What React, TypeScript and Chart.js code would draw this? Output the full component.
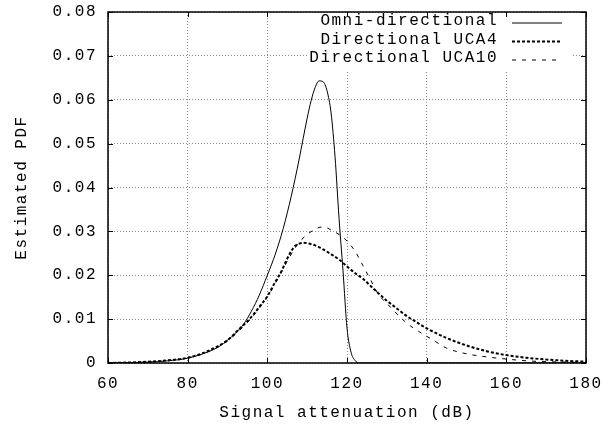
import React, { useEffect, useRef } from 'react';
import { Chart, registerables } from 'chart.js';

Chart.register(...registerables);

const xTickValues = [60, 80, 100, 120, 140, 160, 180];
const yTickValues = [0, 0.01, 0.02, 0.03, 0.04, 0.05, 0.06, 0.07, 0.08];
const seriesLabels = ['Omni-directional', 'Directional UCA4', 'Directional UCA10'];
const xTitle = 'Signal attenuation (dB)';
const yTitle = 'Estimated PDF';

const omniX = [60, 65, 70, 75, 80, 85, 88, 90, 92, 94, 96, 98, 100, 101, 102, 103, 104, 105, 106, 107, 108, 109, 110, 111, 112, 113, 114, 115, 116, 117, 118, 119, 120, 121, 122, 123, 130, 140, 160, 180];
const omniY = [0, 0.0001, 0.0002, 0.0005, 0.0011, 0.0025, 0.0038, 0.0052, 0.0068, 0.0088, 0.0118, 0.0155, 0.02, 0.0223, 0.0248, 0.0276, 0.0307, 0.0342, 0.038, 0.0421, 0.0465, 0.0512, 0.0558, 0.0598, 0.0628, 0.0643, 0.0641, 0.062, 0.057, 0.047, 0.033, 0.021, 0.008, 0.0025, 0.0006, 0, 0, 0, 0, 0];

const uca4X = [60, 65, 70, 75, 80, 85, 90, 93, 95, 96, 98, 100, 102, 103, 104, 105, 106, 107, 108, 109, 110, 112, 114, 116, 118, 120, 122, 124, 126, 128, 130, 132, 135, 138, 140, 145, 150, 155, 160, 165, 170, 175, 180];
const uca4Y = [0, 0.0001, 0.0003, 0.0006, 0.0012, 0.0027, 0.0052, 0.0078, 0.0095, 0.0105, 0.0128, 0.0152, 0.0185, 0.02, 0.0218, 0.0238, 0.0255, 0.0267, 0.0272, 0.0274, 0.0273, 0.0268, 0.0259, 0.0248, 0.0236, 0.022, 0.0205, 0.0192, 0.0175, 0.0158, 0.0142, 0.0128, 0.0107, 0.009, 0.0079, 0.0057, 0.004, 0.0027, 0.0018, 0.0012, 0.0008, 0.0005, 0.0003];

const uca10X = [60, 65, 70, 75, 80, 85, 90, 93, 95, 96, 98, 100, 102, 104, 106, 108, 110, 112, 113, 114, 115, 116, 118, 120, 122, 124, 126, 128, 130, 132, 134, 136, 138, 140, 142, 145, 150, 155, 160, 165, 170, 175, 180];
const uca10Y = [0, 0.0001, 0.0002, 0.0005, 0.0011, 0.0025, 0.005, 0.0074, 0.0092, 0.0102, 0.0125, 0.015, 0.0181, 0.0215, 0.0248, 0.0275, 0.0293, 0.0305, 0.0309, 0.031, 0.0308, 0.0303, 0.0293, 0.0278, 0.0255, 0.0222, 0.0188, 0.0155, 0.0136, 0.0117, 0.0099, 0.0084, 0.0072, 0.0061, 0.005, 0.0034, 0.0021, 0.0014, 0.0009, 0.0005, 0.0003, 0.0002, 0.0001];

const FONT_FAMILY = "'Liberation Mono', 'DejaVu Sans Mono', monospace";
const FONT_SIZE = 16;
const LETTER_SPACING = '1.5px';

const toPoints = (xs: number[], ys: number[]) => xs.map((x, i) => ({ x, y: ys[i] }));

const spacingPlugin = {
  id: 'spacing',
  beforeUpdate(chart: any) { chart.ctx.letterSpacing = LETTER_SPACING; },
  beforeLayout(chart: any) { chart.ctx.letterSpacing = LETTER_SPACING; },
  beforeDraw(chart: any) { chart.ctx.letterSpacing = LETTER_SPACING; },
};

const legendBoxPlugin = {
  id: 'legendBox',
  beforeDatasetsDraw(chart: any) {
    const { ctx, chartArea: a } = chart;
    ctx.save();
    ctx.fillStyle = '#ffffff';
    ctx.fillRect(a.left + 200, a.top + 1, a.right - 14 - (a.left + 200), 58);
    ctx.restore();
  },
};

const framePlugin = {
  id: 'frame',
  afterDatasetsDraw(chart: any) {
    const { ctx, chartArea: a, scales } = chart;
    const xs = scales.x;
    const ys = scales.y;
    ctx.save();
    ctx.setLineDash([]);
    ctx.strokeStyle = '#000';
    ctx.lineWidth = 1;
    ctx.beginPath();
    for (const t of xTickValues) {
      const px = Math.round(xs.getPixelForValue(t)) + 0.5;
      ctx.moveTo(px, a.bottom); ctx.lineTo(px, a.bottom - 5);
      ctx.moveTo(px, a.top); ctx.lineTo(px, a.top + 5);
    }
    for (const t of yTickValues) {
      const py = Math.round(ys.getPixelForValue(t)) + 0.5;
      ctx.moveTo(a.left, py); ctx.lineTo(a.left + 5, py);
      ctx.moveTo(a.right, py); ctx.lineTo(a.right - 5, py);
    }
    ctx.stroke();
    ctx.lineWidth = 1.5;
    ctx.strokeRect(a.left, a.top, a.right - a.left, a.bottom - a.top);

    // legend
    ctx.letterSpacing = LETTER_SPACING;
    ctx.font = `${FONT_SIZE}px ${FONT_FAMILY}`;
    ctx.fillStyle = '#000';
    ctx.textAlign = 'right';
    ctx.textBaseline = 'middle';
    const textRight = a.right - 88;
    const sx0 = a.right - 74;
    const sx1 = a.right - 24;
    chart.data.datasets.forEach((ds: any, i: number) => {
      const cy = a.top + 9 + i * 18.5;
      ctx.fillText(ds.label, textRight, cy);
      ctx.beginPath();
      ctx.setLineDash(ds.borderDash || []);
      ctx.lineWidth = ds.borderWidth;
      ctx.strokeStyle = ds.borderColor;
      ctx.moveTo(sx0, cy + 2);
      ctx.lineTo(sx1, cy + 2);
      ctx.stroke();
    });
    ctx.restore();
  },
};

export default function App() {
  const canvasRef = useRef<HTMLCanvasElement | null>(null);

  useEffect(() => {
    const canvas = canvasRef.current;
    if (!canvas) return;
    const font = { family: FONT_FAMILY, size: FONT_SIZE };
    const chart = new Chart(canvas, {
      type: 'line',
      data: {
        datasets: [
          {
            label: seriesLabels[0],
            data: toPoints(omniX, omniY),
            borderColor: '#000',
            borderWidth: 1,
            borderDash: [],
            pointRadius: 0,
            cubicInterpolationMode: 'monotone',
            fill: false,
          },
          {
            label: seriesLabels[1],
            data: toPoints(uca4X, uca4Y),
            borderColor: '#000',
            borderWidth: 2,
            borderDash: [3, 2],
            pointRadius: 0,
            cubicInterpolationMode: 'monotone',
            fill: false,
          },
          {
            label: seriesLabels[2],
            data: toPoints(uca10X, uca10Y),
            borderColor: '#000',
            borderWidth: 1,
            borderDash: [4, 6],
            pointRadius: 0,
            cubicInterpolationMode: 'monotone',
            fill: false,
          },
        ],
      },
      options: {
        animation: false,
        responsive: false,
        devicePixelRatio: 1,
        layout: { padding: { left: 0, top: 12, right: 29, bottom: 0 } },
        plugins: { legend: { display: false }, tooltip: { enabled: false } },
        scales: {
          x: {
            type: 'linear',
            min: 60,
            max: 180,
            afterFit: (s: any) => { s.height = 61; s.paddingLeft = 0; s.paddingRight = 0; },
            afterBuildTicks: (s: any) => { s.ticks = xTickValues.map((v) => ({ value: v })); },
            ticks: { font, color: '#000', padding: 11, maxRotation: 0, callback: (v: any) => String(v) },
            grid: { color: '#888', lineWidth: 1, drawTicks: false, borderDash: [1, 2] },
            border: { display: false, dash: [1, 2] },
            title: { display: true, text: xTitle, font, color: '#000', padding: { top: 0, bottom: 2 } },
          },
          y: {
            type: 'linear',
            min: 0,
            max: 0.08,
            afterFit: (s: any) => { s.width = 108; s.paddingTop = 0; s.paddingBottom = 0; },
            afterBuildTicks: (s: any) => { s.ticks = yTickValues.map((v) => ({ value: v })); },
            ticks: {
              font,
              color: '#000',
              padding: 11,
              callback: (v: any) => (Math.abs(v) < 1e-9 ? '0' : Number(v).toFixed(2)),
            },
            grid: { color: '#888', lineWidth: 1, drawTicks: false, borderDash: [1, 2] },
            border: { display: false, dash: [1, 2] },
            title: { display: true, text: yTitle, font, color: '#000', padding: { top: 12, bottom: 0 } },
          },
        },
      } as any,
      plugins: [spacingPlugin, legendBoxPlugin, framePlugin],
    });
    return () => chart.destroy();
  }, []);

  return (
    <div style={{ position: 'absolute', left: 0, top: 0, width: 615, height: 424, background: '#fff' }}>
      <canvas ref={canvasRef} width={615} height={424} style={{ display: 'block', width: 615, height: 424 }} />
    </div>
  );
}
